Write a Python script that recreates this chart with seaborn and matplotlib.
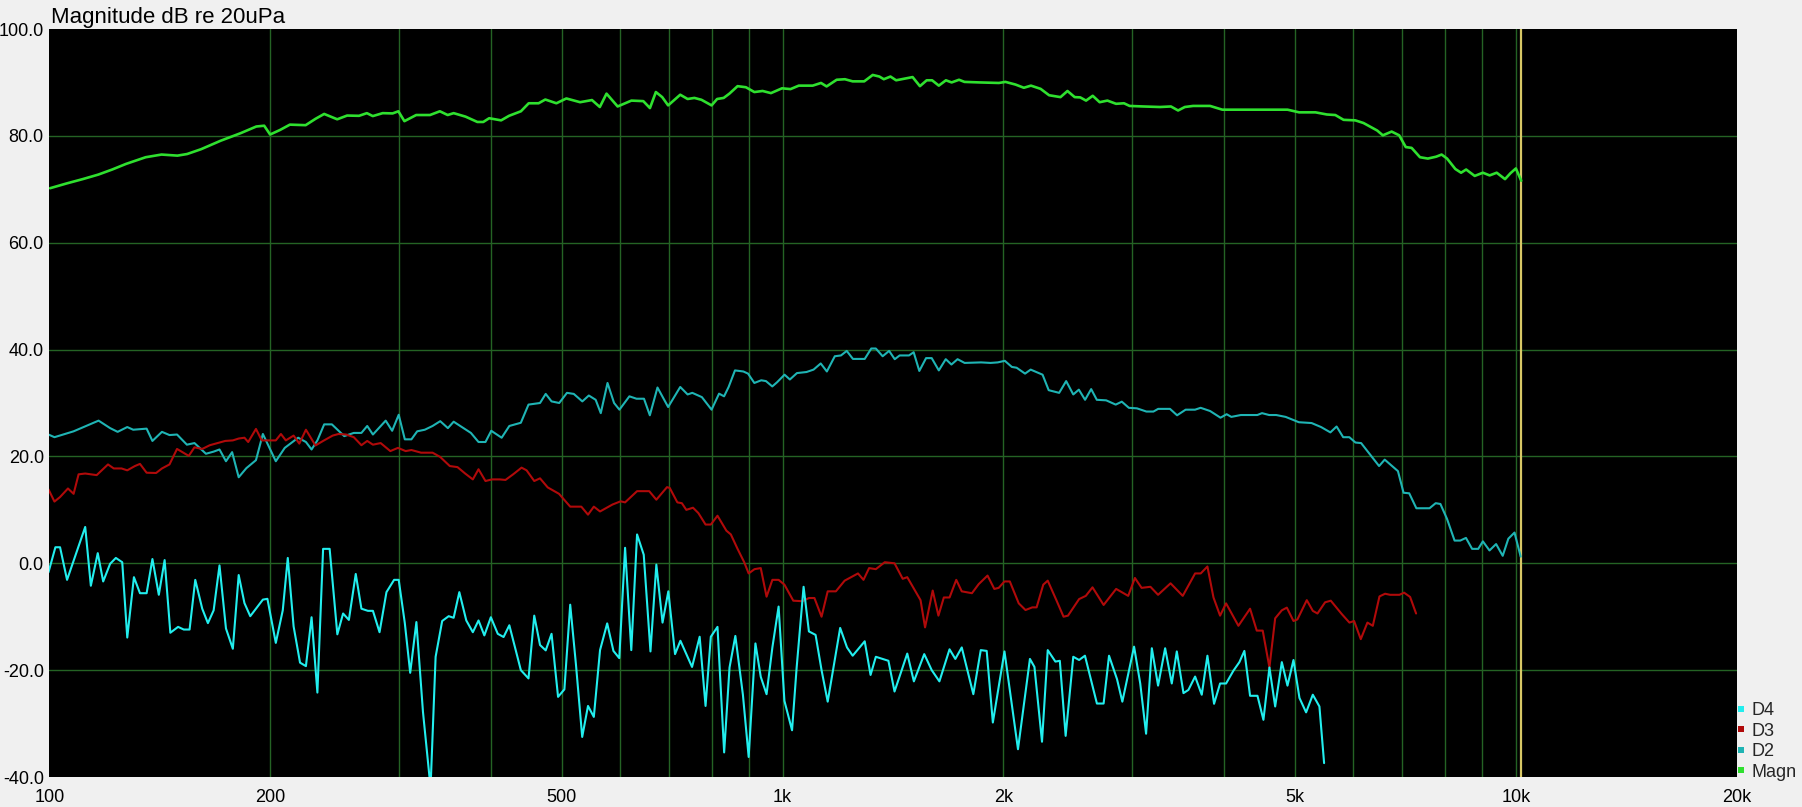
import pandas as pd
import matplotlib
matplotlib.use("Agg")
import matplotlib.pyplot as plt
from matplotlib.lines import Line2D
from matplotlib.ticker import NullLocator
import seaborn as sns

# -----------------------------
# Data (Hz, dB re 20uPa)
# -----------------------------
magn_freq = [100.2, 105.6, 111.0, 116.6, 121.8, 127.2, 135.3, 142.2, 149.5, 154.1,
             161.0, 171.3, 182.3, 191.5, 196.3, 200, 206.3, 212.8, 223.6, 230.7,
             237.0, 246.9, 254.7, 264.4, 271.0, 276.1, 284.8, 293.8, 299.2, 304.9,
             316.4, 330.4, 340.8, 349.3, 355.9, 369.4, 383.4, 390.6, 397.9, 413.1,
             423.5, 439.6, 450.5, 464.7, 474.6, 491.4, 507.0, 529.4, 549.5, 563.2,
             575.2, 595.6, 622.0, 645.6, 659.2, 671.6, 685.1,
             698, 725, 742, 758, 775, 800, 814, 831, 846, 868,
             891, 915, 939, 964, 998, 1025, 1052, 1099, 1128, 1148,
             1185, 1216, 1246, 1292, 1327, 1355, 1374, 1403, 1428, 1504,
             1539, 1572, 1599, 1633, 1670, 1700, 1740, 1770, 1856, 1972,
             2013, 2078, 2133, 2181, 2248, 2309, 2393, 2446, 2502, 2546,
             2593, 2648, 2706, 2773, 2849, 2921, 2973, 3103, 3271, 3385,
             3462, 3536, 3629, 3828, 3978, 4174, 4882, 5063, 5330, 5524,
             5672, 5821, 6040, 6198, 6469, 6585, 6770, 6932, 7077, 7208,
             7400, 7584, 7785, 7920, 8057, 8268, 8419, 8554, 8787, 9016,
             9209, 9416, 9665, 9830, 10000, 10170]
magn_db = [70.2, 71.1, 71.9, 72.75, 73.7, 74.75, 76.0, 76.5, 76.3, 76.6,
           77.5, 79.1, 80.5, 81.75, 81.9, 80.25, 81.1, 82.1, 82.0, 83.2,
           84.1, 83.1, 83.8, 83.75, 84.25, 83.7, 84.25, 84.2, 84.6, 82.75,
           83.9, 83.9, 84.6, 83.9, 84.25, 83.6, 82.6, 82.6, 83.3, 82.9,
           83.75, 84.6, 86.1, 86.1, 86.8, 86.1, 87.0, 86.3, 86.7, 85.4,
           87.9, 85.5, 86.6, 86.5, 85.2, 88.2, 87.25,
           85.7, 87.7, 86.9, 87.1, 86.75, 85.7, 86.9, 87.1, 87.9, 89.3,
           89.1, 88.2, 88.4, 88.0, 88.9, 88.75, 89.4, 89.4, 89.9, 89.25,
           90.5, 90.6, 90.2, 90.2, 91.4, 91.1, 90.6, 91.1, 90.4, 91.0,
           89.3, 90.4, 90.4, 89.4, 90.4, 90.0, 90.5, 90.1, 90.0, 89.9,
           90.1, 89.6, 89.0, 89.4, 88.8, 87.6, 87.25, 88.4, 87.25, 87.2,
           86.6, 87.5, 86.3, 86.6, 86.0, 86.1, 85.6, 85.5, 85.4, 85.5,
           84.75, 85.4, 85.6, 85.6, 84.9, 84.9, 84.9, 84.4, 84.4, 84.0,
           83.9, 83.0, 82.9, 82.4, 81.0, 80.1, 80.8, 80.1, 77.9, 77.75,
           76.0, 75.75, 76.1, 76.5, 75.75, 73.8, 73.1, 73.7, 72.5, 73.1,
           72.6, 73.1, 71.9, 73.0, 73.9, 71.6]

d2_freq = [99.7, 101.6, 107.9, 116.7, 121.0, 123.9, 127.7, 130.1, 135.7, 138.2,
           142.4, 145.8, 149.3, 154.0, 157.7, 163.5, 167.5, 170.6, 174.1, 177.5,
           181.2, 185.6, 191.3, 195.5, 203.6, 209.4, 218.4, 223.8, 227.8, 232.0,
           237.0, 242.8, 252.4, 260.1, 266.4, 271.3, 276.2, 287.5, 293.4, 299.5,
           305.3, 311.7, 317.4, 325.1, 333.1, 341.2, 349.5, 355.9, 375.7, 384.8,
           393.3, 400.5, 413.8, 423.9, 439.5, 450.2, 466.8, 475.2, 484.0, 495.8,
           508.0, 519.0, 533.1, 544.1, 555.9, 564.9,
           577, 589, 599, 618, 632, 647, 659, 675, 698, 725,
           742, 753, 776, 800, 819, 832, 844, 861, 884, 897,
           915, 935, 949, 968, 983, 1006,
           1023, 1046, 1078, 1102, 1127, 1149, 1178, 1201, 1223, 1247,
           1294, 1321, 1340, 1369, 1397, 1422, 1444, 1487, 1509, 1536,
           1569, 1597, 1633, 1669, 1699, 1732, 1771, 1865, 1921, 1965,
           2009, 2054, 2085, 2141, 2179, 2262, 2306, 2383, 2436, 2491,
           2535, 2585, 2635, 2682, 2762, 2846, 2901, 2966, 3042, 3134,
           3204, 3252, 3375, 3451, 3545, 3651, 3716, 3828, 3955, 4032,
           4092, 4216, 4440, 4506, 4608, 4711, 4853, 5059, 5265, 5424,
           5585, 5695, 5814, 5927, 6043, 6151, 6508, 6624, 6905, 7028,
           7154, 7316, 7625, 7774, 7890, 8056, 8249, 8398, 8549, 8716,
           8885, 9016, 9205, 9398, 9595, 9766, 9957, 10152]
d2_db = [24.1, 23.6, 24.7, 26.7, 25.3, 24.6, 25.5, 25.0, 25.2, 22.9,
         24.6, 24.0, 24.1, 22.2, 22.5, 20.5, 20.9, 21.3, 19.1, 20.8,
         16.1, 17.8, 19.3, 24.2, 19.1, 21.6, 23.5, 22.7, 21.3, 23.0,
         26.0, 26.0, 23.8, 24.4, 24.4, 25.7, 24.1, 26.7, 24.8, 27.8,
         23.2, 23.2, 24.7, 25.0, 25.7, 26.6, 25.3, 26.5, 24.4, 22.7,
         22.7, 24.8, 23.5, 25.7, 26.3, 29.7, 30.0, 31.7, 30.3, 30.0,
         31.9, 31.7, 30.3, 31.4, 30.6, 28.1,
         33.75, 30.0, 28.75, 31.25, 30.8, 30.8, 27.7, 32.9, 29.25, 33.0,
         31.6, 31.9, 31.1, 28.75, 31.75, 31.25, 33.0, 36.1, 35.9, 35.5,
         33.75, 34.25, 34.1, 33.1, 33.9, 35.3,
         34.4, 35.6, 35.8, 36.25, 37.4, 35.9, 38.75, 38.9, 39.75, 38.25,
         38.25, 40.2, 40.2, 38.75, 39.75, 38.2, 38.9, 38.9, 39.5, 36.0,
         38.4, 38.4, 36.1, 38.2, 37.2, 38.2, 37.5, 37.6, 37.5, 37.6,
         37.9, 36.75, 36.6, 35.5, 36.25, 35.3, 32.4, 31.9, 34.1, 31.6,
         32.5, 30.6, 32.6, 30.6, 30.5, 29.7, 30.25, 29.1, 29.0, 28.4,
         28.4, 28.9, 28.9, 27.7, 28.75, 28.75, 29.1, 28.5, 27.25, 27.9,
         27.4, 27.75, 27.75, 28.1, 27.75, 27.75, 27.4, 26.4, 26.25, 25.5,
         24.5, 25.6, 23.6, 23.6, 22.6, 22.5, 18.2, 19.4, 17.25, 13.2,
         13.1, 10.3, 10.3, 11.25, 11.1, 8.3, 4.25, 4.25, 4.75, 2.7,
         2.7, 4.1, 2.4, 3.6, 1.4, 4.6, 5.75, 1.25]

d3_freq = [99.7, 101.6, 103.4, 106.0, 107.9, 109.6, 111.9, 113.9, 116.0, 120.2,
           122.4, 125.4, 127.7, 130.8, 132.9, 135.7, 139.8, 142.4, 145.8, 149.3,
           154.9, 157.7, 161.6, 165.5, 169.6, 173.7, 177.9, 181.2, 184.5, 186.7,
           191.3, 194.8, 200.7, 203.6, 206.9, 210.1, 215.3, 219.2, 223.8, 230.6,
           236.2, 243.4, 247.9, 253.9, 260.1, 266.4, 271.3, 276.2, 283.0, 291.7,
           298.8, 306.1, 311.7, 321.3, 333.1, 341.2, 351.6, 360.2, 369.0, 378.0,
           384.8, 393.3, 401.5, 411.3, 418.8, 429.0, 440.5, 447.5, 458.4, 466.8,
           478.2,
           495.5, 513.2, 531.4, 542.7, 552.7, 563.6, 586.1, 601.2, 609.7, 633.1,
           657.7, 672.6, 695.5, 701.5, 718.5, 728.7, 739.0, 754.7, 767.5, 785.0,
           798.1, 815.0, 838.1, 849.9, 868.0, 886.3, 898.8, 915.5, 933.6, 950.8,
           968.3, 987.4, 1005.6, 1034, 1064, 1086, 1105, 1130, 1152, 1182,
           1215, 1267, 1289, 1312, 1340, 1378, 1421, 1458, 1479, 1525,
           1542, 1564, 1602, 1631, 1659, 1689, 1725, 1755, 1812, 1851,
           1903, 1944, 1971, 2007, 2041, 2099, 2144, 2190, 2220, 2267,
           2299, 2364, 2416, 2450, 2537, 2591, 2646, 2740, 2850, 2960,
           3023, 3087, 3174, 3251, 3381,
           3513, 3652, 3717, 3796, 3869, 3950, 4025, 4184, 4340, 4432,
           4516, 4612, 4696, 4795, 4871, 4974, 5036, 5186, 5285, 5363,
           5493, 5592, 5788, 5929, 6017, 6144, 6274, 6381, 6516, 6632,
           6737, 6937, 7040, 7174, 7310]
d3_db = [13.85, 11.55, 12.4, 14.0, 13.0, 16.65, 16.8, 16.65, 16.5, 18.5,
         17.75, 17.75, 17.4, 18.2, 18.6, 16.95, 16.9, 17.75, 18.5, 21.4,
         20.1, 21.7, 21.4, 22.1, 22.5, 22.9, 23.0, 23.35, 23.5, 22.7,
         25.15, 23.0, 23.0, 23.0, 24.2, 23.0, 23.9, 22.4, 25.0, 22.05,
         22.9, 23.9, 24.2, 24.1, 23.6, 22.1, 22.9, 22.2, 22.5, 21.0,
         21.6, 21.0, 21.2, 20.7, 20.7, 19.9, 18.2, 18.0, 16.8, 15.7,
         17.6, 15.4, 15.7, 15.7, 15.6, 16.65, 17.9, 17.4, 15.4, 15.9,
         14.2,
         13.0, 10.6, 10.6, 9.1, 10.6, 9.7, 11.0, 11.6, 11.4, 13.5,
         13.5, 11.9, 14.25, 14.1, 11.4, 11.25, 10.0, 10.4, 9.4, 7.25,
         7.25, 8.9, 6.1, 5.4, 2.7, 0.2, -1.9, -1.1, -0.9, -6.25,
         -3.1, -3.1, -4.0, -7.0, -7.1, -6.5, -6.5, -10.0, -5.25, -5.25,
         -3.25, -1.9, -3.1, -0.9, -1.1, 0.2, 0.0, -2.9, -2.6, -5.75,
         -6.9, -12.0, -5.1, -9.8, -6.4, -6.4, -3.1, -5.25, -5.6, -3.9,
         -2.3, -4.8, -4.6, -3.4, -3.4, -7.5, -8.75, -8.25, -8.25, -4.0,
         -3.25, -7.0, -10.0, -9.8, -6.7, -6.1, -4.5, -7.8, -4.8, -6.1,
         -2.75, -4.6, -4.4, -5.9, -3.75,
         -6.1, -1.9, -1.9, -0.6, -6.4, -9.8, -7.5, -11.7, -8.5, -12.6,
         -12.6, -19.5, -10.3, -8.8, -8.3, -10.8, -10.5, -6.9, -8.9, -9.4,
         -7.3, -7.0, -9.5, -11.1, -10.8, -14.2, -11.1, -11.7, -6.2, -5.7,
         -5.9, -5.9, -5.5, -6.3, -9.4]

d4_freq = [99.7, 101.9, 103.4, 105.7, 107.9, 111.9, 113.9, 116.4, 118.4, 121.0,
           123.2, 125.7, 127.7, 130.4, 132.9, 135.7, 138.2, 141.0, 143.6, 146.2,
           149.8, 152.5, 155.3, 158.1, 161.6, 164.5, 167.5, 170.6, 174.1, 177.9,
           181.2, 184.5, 187.9, 195.5, 198.3, 203.6, 208.1, 211.4, 215.3, 219.7,
           223.8, 227.8, 232.0, 236.2, 241.1, 247.0, 251.5, 256.1, 261.7, 266.4,
           271.9, 276.2, 282.0, 288.2, 295.2, 299.5, 305.3, 310.5, 316.6, 323.2,
           331.0, 336.3, 343.3, 350.4, 355.9, 362.3, 370.3, 378.0, 384.8, 391.9,
           400.0, 408.8, 416.3, 423.9, 439.5, 450.2, 458.4, 466.8, 475.2, 484.0,
           494.0, 503.9, 513.2, 522.5, 532.9, 542.7, 552.7, 563.6, 576.4, 587.8,
           598.7, 609.7, 621.7, 633.1, 646.5, 660.3, 672.6, 685.8, 698.4, 713.3,
           725.4, 752.4, 770.6, 785.0, 798.1, 815.0, 832.2, 846.4, 862.0, 882.7,
           898.8, 918.1, 933.6, 950.8, 968.3, 987.4, 1005.6, 1030, 1045, 1068,
           1086, 1109, 1130, 1152, 1198, 1224, 1246, 1294, 1318, 1340,
           1394, 1421, 1479, 1510, 1560, 1597, 1636, 1689, 1720, 1755,
           1820, 1863, 1898, 1935, 2007, 2094, 2174, 2205, 2258, 2299,
           2355, 2388, 2432, 2491, 2537, 2584, 2683, 2740, 2787, 2858,
           2906, 3015, 3074, 3131, 3188, 3251,
           3324, 3394, 3448, 3521, 3576, 3652, 3729, 3796, 3876, 3950,
           4025, 4119, 4197, 4263, 4340, 4442, 4526, 4612, 4696, 4795,
           4881, 4974, 5068, 5175, 5285, 5396, 5476]
d4_db = [-1.7, 3.0, 3.0, -3.1, 0.5, 6.8, -4.2, 1.9, -3.4, -0.1,
         1.0, 0.2, -13.9, -2.6, -5.6, -5.6, 0.8, -5.9, 0.6, -13.0,
         -11.9, -12.4, -12.4, -3.1, -8.5, -11.2, -8.8, -0.4, -12.2, -16.0,
         -2.2, -7.45, -9.9, -6.8, -6.65, -14.9, -8.8, 1.0, -11.8, -18.6,
         -19.25, -10.1, -24.2, 2.7, 2.7, -13.3, -9.4, -10.6, -2.0, -8.5,
         -8.9, -8.9, -12.9, -5.4, -3.1, -3.1, -11.2, -20.5, -11.0, -27.8,
         -42.0, -17.5, -10.8, -9.9, -10.2, -5.4, -10.7, -12.9, -10.7, -13.5,
         -10.1, -13.2, -13.8, -11.6, -20.0, -21.55, -9.8, -15.3, -16.3, -13.2,
         -25.0, -23.6, -7.75, -18.9, -32.5, -26.7, -28.75, -16.25, -11.25, -16.4,
         -17.75, 2.9, -16.25, 5.4, 1.6, -16.5, -0.25, -11.1, -5.25, -17.0,
         -14.5, -19.4, -13.75, -26.7, -13.75, -11.9, -35.4, -19.5, -13.6, -24.6,
         -36.25, -15.0, -21.25, -24.5, -15.75, -8.1, -25.75, -31.25, -19.5, -4.4,
         -12.75, -13.4, -20.0, -25.9, -12.1, -15.75, -17.3, -14.6, -20.9, -17.5,
         -18.25, -24.0, -16.9, -22.1, -17.0, -20.0, -22.1, -16.1, -17.9, -15.75,
         -24.5, -16.25, -16.4, -29.8, -16.5, -34.8, -17.9, -19.4, -33.4, -16.25,
         -18.4, -18.25, -32.3, -17.5, -18.1, -17.3, -26.25, -26.25, -17.3, -21.7,
         -25.9, -15.6, -22.5, -31.9, -15.9, -22.9,
         -15.9, -22.5, -16.5, -24.3, -23.7, -21.2, -24.6, -17.3, -26.3, -22.5,
         -22.5, -20.1, -18.5, -16.4, -24.8, -24.8, -29.3, -19.5, -26.8, -18.5,
         -22.9, -18.1, -25.2, -27.9, -24.6, -26.8, -37.4]

series_names = ["Magn", "D2", "D3", "D4"]
series_colors = {"Magn": "#2fe02f", "D2": "#1fb4b4", "D3": "#b00a0a", "D4": "#22eeee"}
series_widths = {"Magn": 1.9, "D2": 1.5, "D3": 1.5, "D4": 1.5}

x_ticks = [100, 200, 500, 1000, 2000, 5000, 10000, 20000]
x_tick_labels = ["100", "200", "500", "1k", "2k", "5k", "10k", "20k"]
x_grid = [200, 300, 400, 500, 600, 700, 800, 900,
          1000, 2000, 3000, 4000, 5000, 6000, 7000, 8000, 9000, 10000]
y_ticks = [-40, -20, 0, 20, 40, 60, 80, 100]
marker_freq = 10160

frames = {
    "Magn": pd.DataFrame({"freq": magn_freq, "dB": magn_db}),
    "D2": pd.DataFrame({"freq": d2_freq, "dB": d2_db}),
    "D3": pd.DataFrame({"freq": d3_freq, "dB": d3_db}),
    "D4": pd.DataFrame({"freq": d4_freq, "dB": d4_db}),
}

# -----------------------------
# Figure
# -----------------------------
sns.set_style("dark")
plt.rcParams["font.family"] = ["Liberation Sans", "DejaVu Sans"]

fig = plt.figure(figsize=(18.02, 8.07), dpi=100, facecolor="#f0f0f0")
ax = fig.add_axes([49.4 / 1802, 1 - 777 / 807, 1687.2 / 1802, 748 / 807])
ax.set_facecolor("black")

grid_col = "#246324"
for f in x_grid:
    ax.axvline(f, color=grid_col, lw=1.0, zorder=1)
for v in y_ticks[1:-1]:
    ax.axhline(v, color=grid_col, lw=1.0, zorder=1)
ax.axvline(marker_freq, color="#d8c866", lw=1.6, zorder=1)

for name in series_names:
    sns.lineplot(data=frames[name], x="freq", y="dB", sort=False, estimator=None,
                 color=series_colors[name], lw=series_widths[name], ax=ax, zorder=3)

ax.set_xscale("log")
ax.set_xlim(100, 20000)
ax.set_ylim(-40, 100)
ax.set_xticks(x_ticks)
ax.set_xticklabels(x_tick_labels)
ax.xaxis.set_minor_locator(NullLocator())
ax.set_yticks(y_ticks)
ax.set_yticklabels([f"{v:.1f}" for v in y_ticks])
ax.tick_params(axis="both", length=0, labelsize=13, colors="black")
ax.tick_params(axis="y", pad=4)
ax.tick_params(axis="x", pad=8.5)
ax.set_xlabel("")
ax.set_ylabel("")
ax.grid(False)
for s in ax.spines.values():
    s.set_visible(False)

fig.text(51 / 1802, 1 - 23 / 807, "Magnitude dB re 20uPa", fontsize=16,
         ha="left", va="baseline", color="black")

handles = [Line2D([], [], ls="none", marker="s", markersize=5,
                  color=series_colors[n], markeredgewidth=0) for n in ["D4", "D3", "D2", "Magn"]]
ax.legend(handles, ["D4", "D3", "D2", "Magn"], loc="lower left",
          bbox_to_anchor=(1.0, -0.005), frameon=False, fontsize=13,
          handlelength=0.5, handletextpad=0.3, labelspacing=0.2,
          borderpad=0, borderaxespad=0)

fig.savefig("out.png", dpi=100, facecolor=fig.get_facecolor())
